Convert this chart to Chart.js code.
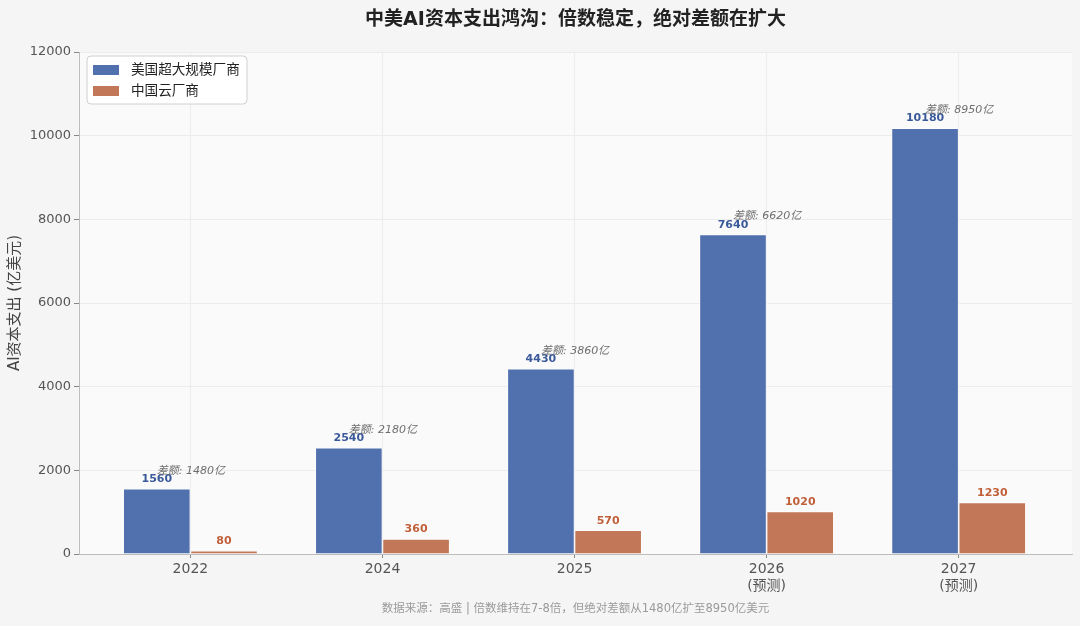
<!DOCTYPE html>
<html>
<head>
<meta charset="utf-8">
<script src="https://cdn.jsdelivr.net/npm/chart.js@4.4.1/dist/chart.umd.min.js"></script>
<style>
  html, body { margin: 0; padding: 0; background: #f5f5f5; }
  canvas { display: block; }
</style>
</head>
<body>
<canvas id="capexGap" width="1080" height="626"></canvas>
<script>
// 数据（亿美元）
const years = ['2022', '2024', '2025', '2026', '2027'];
const yearNotes = ['', '', '', '(预测)', '(预测)'];
const usCapex = [1560, 2540, 4430, 7640, 10180];
const cnCapex = [80, 360, 570, 1020, 1230];
const seriesNames = ['美国超大规模厂商', '中国云厂商'];

const FONT = "'DejaVu Sans', 'Noto Sans CJK SC', sans-serif";
const BLUE = '#5170ae';
const ORANGE = '#c27758';

// plot background
const plotBg = {
	id: 'plotBg',
	beforeDraw(chart) {
		const {ctx, chartArea: a} = chart;
		ctx.save();
		ctx.fillStyle = '#fafafa';
		ctx.fillRect(a.left, a.top, a.right - a.left, a.bottom - a.top);
		ctx.restore();
	}
};

// value labels + gap notes
const barLabels = {
	id: 'barLabels',
	afterDatasetsDraw(chart) {
		const ctx = chart.ctx;
		const usBars = chart.getDatasetMeta(0).data;
		const cnBars = chart.getDatasetMeta(1).data;
		ctx.save();
		ctx.textAlign = 'center';
		ctx.textBaseline = 'bottom';
		ctx.font = 'bold 11px ' + FONT;
		usBars.forEach((b, i) => {
			ctx.fillStyle = '#3b5a9a';
			ctx.fillText(String(usCapex[i]), b.x, b.y - 4);
		});
		cnBars.forEach((b, i) => {
			ctx.fillStyle = '#c0603a';
			ctx.fillText(String(cnCapex[i]), b.x, b.y - 4);
		});
		ctx.textAlign = 'left';
		ctx.textBaseline = 'middle';
		ctx.font = 'italic 11px ' + FONT;
		ctx.fillStyle = '#6e6e6e';
		usBars.forEach((b, i) => {
			ctx.fillText('差额: ' + (usCapex[i] - cnCapex[i]) + '亿', b.x, b.y - 18);
		});
		ctx.restore();
	}
};

// legend box inside the plot + footer note
const boxLegend = {
	id: 'boxLegend',
	afterDraw(chart) {
		const {ctx, chartArea: a} = chart;
		const x = a.left + 8, y = a.top + 4;
		ctx.save();
		ctx.beginPath();
		ctx.roundRect(x, y, 160, 48, 4);
		ctx.fillStyle = 'rgba(255,255,255,0.85)';
		ctx.fill();
		ctx.strokeStyle = '#d0d0d0';
		ctx.lineWidth = 1;
		ctx.stroke();
		ctx.font = '13.6px ' + FONT;
		ctx.textBaseline = 'middle';
		chart.data.datasets.forEach((ds, i) => {
			const cy = y + 14 + i * 21;
			ctx.fillStyle = ds.backgroundColor;
			ctx.fillRect(x + 6, cy - 5, 26, 10);
			ctx.fillStyle = '#222';
			ctx.fillText(ds.label, x + 44, cy);
		});

		ctx.font = '11.5px ' + FONT;
		ctx.fillStyle = '#9a9a9a';
		ctx.textAlign = 'center';
		ctx.fillText('数据来源：高盛 | 倍数维持在7-8倍，但绝对差额从1480亿扩至8950亿美元', (a.left + a.right) / 2, 609);
		ctx.restore();
	}
};

const ctx = document.getElementById('capexGap').getContext('2d');
const capexChart = new Chart(ctx, {
	type: 'bar',
	data: {
		datasets: [
			{
				label: seriesNames[0],
				data: usCapex.map((v, i) => ({x: i, y: v})),
				backgroundColor: BLUE,
				borderColor: '#ffffff',
				borderWidth: 0.8
			},
			{
				label: seriesNames[1],
				data: cnCapex.map((v, i) => ({x: i, y: v})),
				backgroundColor: ORANGE,
				borderColor: '#ffffff',
				borderWidth: 0.8
			}
		]
	},
	options: {
		responsive: false,
		animation: false,
		categoryPercentage: 0.7,
		barPercentage: 1.0,
		layout: { padding: { left: 0, right: 8, top: 0, bottom: 0 } },
		plugins: {
			legend: { display: false },
			tooltip: { enabled: false },
			title: {
				display: true,
				fullSize: false,
				text: '中美AI资本支出鸿沟：倍数稳定，绝对差额在扩大',
				color: '#222',
				font: { family: FONT, size: 19, weight: 'bold' },
				padding: { top: 9, bottom: 20.2 }
			}
		},
		scales: {
			x: {
				type: 'linear',
				min: -0.58,
				max: 4.59,
				offset: false,
				afterFit: s => { s.height = 72; },
				afterBuildTicks: s => { s.ticks = years.map((_, i) => ({value: i})); },
				grid: { offset: false, color: '#ececec', tickColor: '#888', tickLength: 4 },
				border: { color: '#bdbdbd' },
				ticks: {
					padding: 3,
					color: '#555',
					font: { family: FONT, size: 14 },
					callback: v => yearNotes[v] ? [years[v], yearNotes[v]] : years[v]
				}
			},
			y: {
				min: 0,
				max: 12000,
				afterFit: s => { s.width = 79; },
				grid: { color: '#ececec', tickColor: '#888', tickLength: 5 },
				border: { color: '#bdbdbd' },
				ticks: {
					stepSize: 2000,
					padding: 3,
					color: '#555',
					font: { family: FONT, size: 13 },
					callback: v => String(v)
				},
				title: {
					display: true,
					text: 'AI资本支出 (亿美元)',
					color: '#444',
					font: { family: FONT, size: 15 },
					padding: { top: 6, bottom: 0 }
				}
			}
		}
	},
	plugins: [plotBg, barLabels, boxLegend]
});
</script>
</body>
</html>
